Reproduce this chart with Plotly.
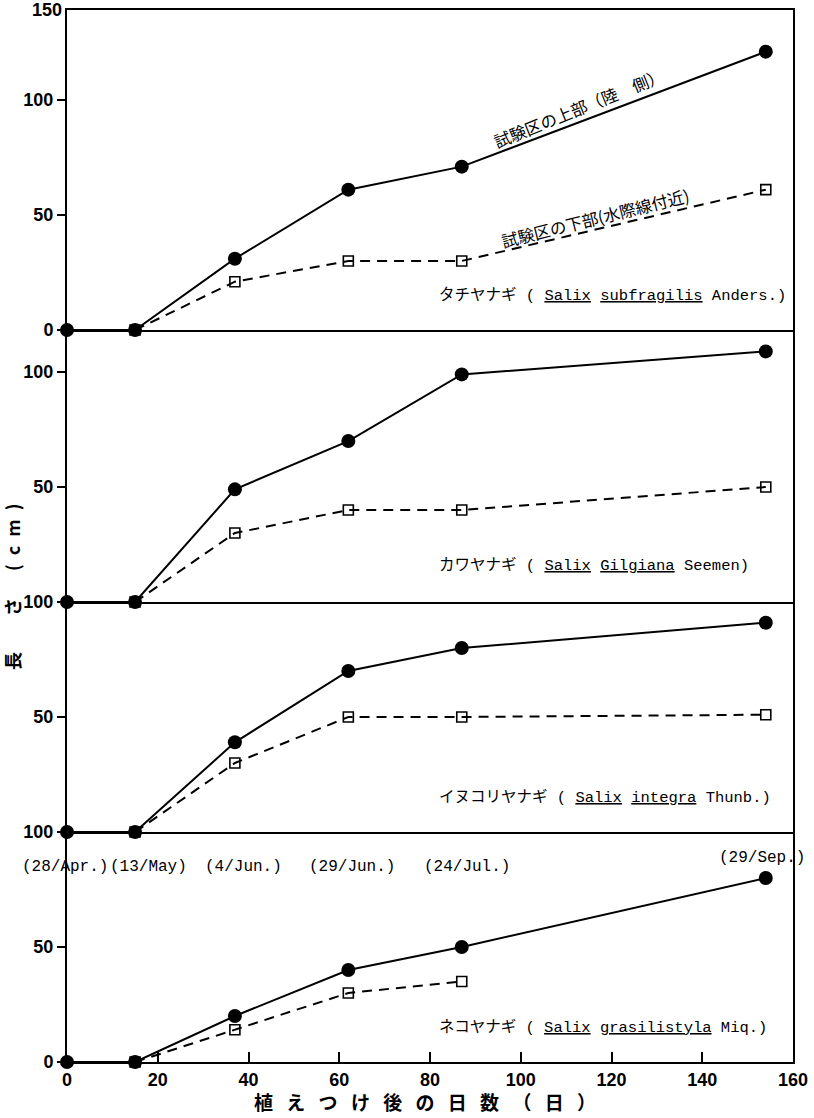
import plotly.graph_objects as go

# ---------------- data ----------------
days = [0, 15, 37, 62, 87, 154]
dates = ["(28/Apr.)", "(13/May)", "(4/Jun.)", "(29/Jun.)", "(24/Jul.)", "(29/Sep.)"]

species = [
    "タチヤナギ ( <u>Salix</u> <u>subfragilis</u> Anders.)",
    "カワヤナギ ( <u>Salix</u> <u>Gilgiana</u> Seemen)",
    "イヌコリヤナギ ( <u>Salix</u> <u>integra</u> Thunb.)",
    "ネコヤナギ ( <u>Salix</u> <u>grasilistyla</u> Miq.)",
]

# upper part of plot (land side) — solid line, filled circles
upper_1 = [0, 0, 31, 61, 71, 121]
upper_2 = [0, 0, 49, 70, 99, 109]
upper_3 = [0, 0, 39, 70, 80, 91]
upper_4 = [0, 0, 20, 40, 50, 80]

# lower part of plot (near water line) — dashed line, open squares
lower_days_1 = [15, 37, 62, 87, 154]
lower_1 = [0, 21, 30, 30, 61]
lower_days_2 = [15, 37, 62, 87, 154]
lower_2 = [0, 30, 40, 40, 50]
lower_days_3 = [15, 37, 62, 87, 154]
lower_3 = [0, 30, 50, 50, 51]
lower_days_4 = [15, 37, 62, 87]
lower_4 = [0, 14, 30, 35]

upper_label = "試験区の上部（陸　側）"
lower_label = "試験区の下部(水際線付近)"
SP = "\u2002\u2009"
x_title = SP.join(list("植えつけ後の日数（日）"))
y_title = "長\u2003\u2003さ\u2003\u2002(\u2002c\u2002m\u2002)"

x_ticks = [0, 20, 40, 60, 80, 100, 120, 140, 160]

# ---------------- layout geometry ----------------
W, H = 814, 1118
ML, MR, MT, MB = 67, 21, 10, 56
PH = H - MT - MB  # plot height in px
PW = W - ML - MR
bottom_px = H - MB


def frac(py):
    return (bottom_px - py) / PH


# panel pixel extents (top, bottom)
panels_px = [(10, 330), (330, 602), (602, 832), (832, 1062)]
ranges = [[0, 139.1], [0, 118.3], [0, 100], [0, 100]]
tickvals = [[0, 50, 100], [50, 100], [50, 100], [0, 50, 100]]

uppers = [upper_1, upper_2, upper_3, upper_4]
lowers = [(lower_days_1, lower_1), (lower_days_2, lower_2),
          (lower_days_3, lower_3), (lower_days_4, lower_4)]

fig = go.Figure()

num_font = dict(family="Liberation Sans", size=18, color="black", weight="bold")
mono_font = dict(family="Liberation Mono, Noto Sans CJK JP", size=15.5, color="black")
cjk_font = dict(family="Noto Sans CJK JP", size=16.5, color="black")

for i in range(4):
    xa = "x" if i == 0 else f"x{i+1}"
    ya = "y" if i == 0 else f"y{i+1}"
    ld, lv = lowers[i]
    fig.add_trace(go.Scatter(
        x=ld, y=lv, xaxis=xa, yaxis=ya, mode="lines+markers",
        line=dict(color="black", width=2, dash="10px,7px"),
        marker=dict(symbol="square-open", size=10, color="black", line=dict(width=1.6)),
        cliponaxis=False, showlegend=False, hoverinfo="skip"))
    fig.add_trace(go.Scatter(
        x=days, y=uppers[i], xaxis=xa, yaxis=ya, mode="lines+markers",
        line=dict(color="black", width=2),
        marker=dict(symbol="circle", size=14, color="black"),
        cliponaxis=False, showlegend=False, hoverinfo="skip"))

layout = dict(
    width=W, height=H,
    margin=dict(l=ML, r=MR, t=MT, b=MB, autoexpand=False),
    paper_bgcolor="white", plot_bgcolor="white",
    showlegend=False,
)

for i in range(4):
    top, bot = panels_px[i]
    xkey = "xaxis" if i == 0 else f"xaxis{i+1}"
    ykey = "yaxis" if i == 0 else f"yaxis{i+1}"
    yanchor = "y" if i == 0 else f"y{i+1}"
    xanchor = "x" if i == 0 else f"x{i+1}"
    last = (i == 3)
    layout[xkey] = dict(
        domain=[0, 1], anchor=yanchor, range=[0, 160],
        showline=True, linecolor="black", linewidth=2,
        mirror=(i == 0), showgrid=False, zeroline=False,
        ticks="inside" if last else "", ticklen=10, tickwidth=2, tickcolor="black",
        tickvals=x_ticks, showticklabels=last, tickfont=num_font,
        automargin=False,
        matches=None if i == 0 else "x",
    )
    layout[ykey] = dict(
        domain=[frac(bot), frac(top)], anchor=xanchor, range=ranges[i],
        showline=True, linecolor="black", linewidth=2, mirror=True,
        showgrid=False, zeroline=False,
        ticks="outside", ticklen=8, tickwidth=2, tickcolor="black",
        tickvals=tickvals[i], tickfont=num_font, automargin=False,
    )

fig.update_layout(**layout)

annotations = []
# "150" at the top corner of panel 1
annotations.append(dict(xref="paper", yref="paper", x=0, y=frac(10), text="150",
                        showarrow=False, xanchor="right", yanchor="middle",
                        xshift=-3, font=num_font))

# species labels
species_y = [15.2, 16, 15.2, 14.8]
for i in range(4):
    xa = "x" if i == 0 else f"x{i+1}"
    ya = "y" if i == 0 else f"y{i+1}"
    annotations.append(dict(xref=xa, yref=ya, x=81.5, y=species_y[i], text=species[i],
                            showarrow=False, xanchor="left", yanchor="middle",
                            font=mono_font))

# line labels (panel 1)
annotations.append(dict(xref="x", yref="y", x=112.8, y=96.5, text=upper_label,
                        showarrow=False, textangle=-22, font=cjk_font))
annotations.append(dict(xref="x", yref="y", x=116.4, y=48.7, text=lower_label,
                        showarrow=False, textangle=-14, font=cjk_font))

# date labels (panel 4)
date_y = [85, 85, 85, 85, 85, 88.7]
date_shift = [-2, 13, 9, 4, 5, -4]
for d, t, yy, sh in zip(days, dates, date_y, date_shift):
    annotations.append(dict(xref="x4", yref="y4", x=d, y=yy, text=t, showarrow=False,
                            xanchor="center", yanchor="middle", xshift=sh,
                            font=dict(family="Liberation Mono", size=16, color="black")))

# axis titles
annotations.append(dict(xref="paper", yref="paper", x=0, y=frac(587), text=y_title,
                        showarrow=False, textangle=-90, xshift=-70,
                        font=dict(family="Noto Sans CJK JP", size=18, color="black",
                                  weight="bold")))
annotations.append(dict(xref="paper", yref="paper", x=(425 - ML) / PW,
                        y=frac(1117), text=x_title, showarrow=False,
                        font=dict(family="Noto Sans CJK JP", size=19, color="black",
                                  weight="bold")))

fig.update_layout(annotations=annotations)

fig.write_html("out.html", config={"displayModeBar": False},
               post_script="document.body.style.margin='0';document.body.style.padding='0';")
